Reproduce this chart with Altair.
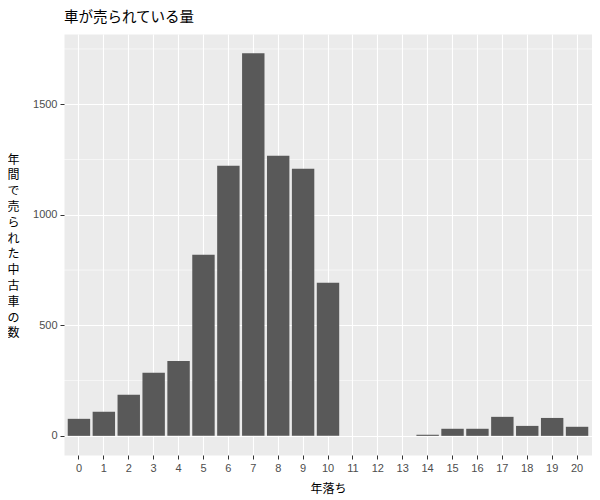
import altair as alt
import pandas as pd

ages = list(range(21))
counts = [77, 109, 186, 285, 339, 819, 1222, 1731, 1267, 1208, 692,
          0, 0, 0, 5, 32, 32, 86, 45, 81, 41]
major_ticks = [0, 500, 1000, 1500]
minor_grid = [250, 750, 1250, 1750]
y_domain = [-86.6, 1817.6]
title_text = "車が売られている量"
x_title = "年落ち"
y_title = ["年", "間", "で", "売", "ら", "れ", "た", "中", "古", "車", "の", "数"]

df = pd.DataFrame({"age": ages, "count": counts})
minor_df = pd.DataFrame({"count": minor_grid})

JP = "Noto Sans CJK JP"
LAT = "Liberation Sans"

yscale = alt.Scale(domain=y_domain, nice=False, zero=False)
xscale = alt.Scale(paddingInner=0.1, paddingOuter=0.15)

y_axis = alt.Axis(
    values=major_ticks,
    format="d",
    title=y_title,
    grid=True,
    gridColor="white",
    gridWidth=1.1,
    domain=False,
    tickColor="#333333",
    tickSize=4,
    tickWidth=1,
    labelColor="#4D4D4D",
    labelFont=LAT,
    labelFontSize=11,
    labelPadding=3,
    titleFont=JP,
    titleFontSize=12,
    titleFontWeight="normal",
    titleColor="black",
    titleAngle=0,
    titleAlign="center",
    titleBaseline="middle",
    titleLineHeight=15.8,
    titleX=-51,
    titleY=125,
)

minor = alt.Chart(minor_df).mark_rule(color="white", strokeWidth=0.55).encode(
    y=alt.Y("count:Q", scale=yscale, axis=y_axis)
)

bars = alt.Chart(df).mark_bar(color="#595959").encode(
    x=alt.X(
        "age:O",
        scale=xscale,
        axis=alt.Axis(
            title=x_title,
            labelAngle=0,
            bandPosition=0.5,
            grid=True,
            gridColor="white",
            gridWidth=1.1,
            domain=False,
            tickColor="#333333",
            tickSize=4,
            tickWidth=1,
            labelColor="#4D4D4D",
            labelFont=LAT,
            labelFontSize=11,
            labelPadding=3,
            titleFont=JP,
            titleFontSize=12,
            titleFontWeight="normal",
            titleColor="black",
            titlePadding=10,
        ),
    ),
    y=alt.Y("count:Q", scale=yscale, axis=y_axis),
    y2=alt.datum(0),
)

chart = (
    alt.layer(minor, bars)
    .properties(
        width=528,
        height=421,
        autosize=alt.AutoSizeParams(type="none"),
        padding={"left": 56, "top": 26, "right": 0, "bottom": 46},
        background="white",
        title=alt.TitleParams(
            text=title_text,
            anchor="start",
            frame="group",
            font=JP,
            fontSize=14.5,
            fontWeight="normal",
            color="black",
            offset=9,
        ),
    )
    .configure_view(fill="#EBEBEB", stroke="transparent")
)

chart.save("out.html", embed_options={"renderer": "svg", "actions": False})
